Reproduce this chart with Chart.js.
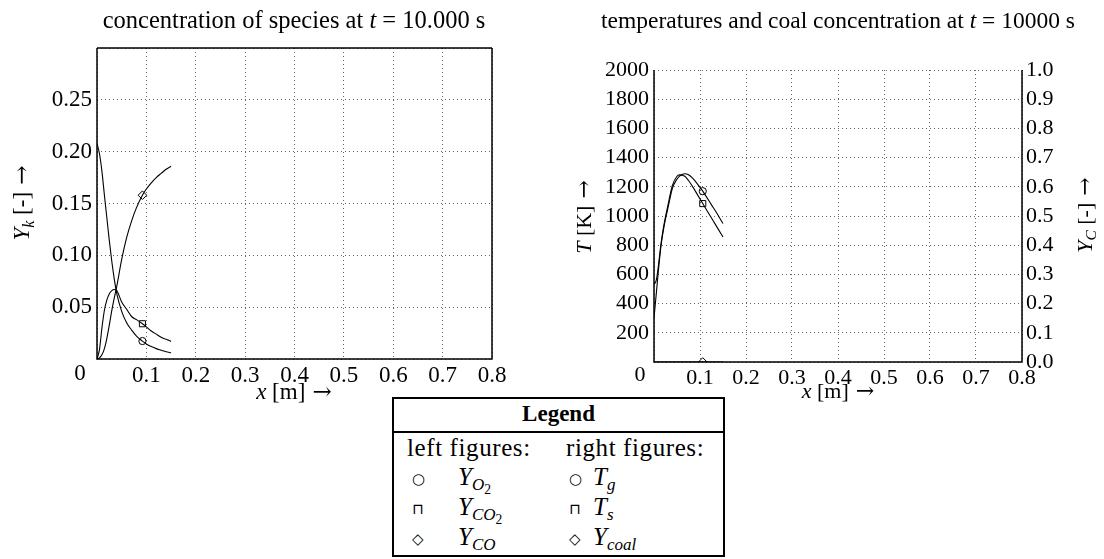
<!DOCTYPE html>
<html>
<head>
<meta charset="utf-8">
<script src="https://cdn.jsdelivr.net/npm/chart.js@4.4.0/dist/chart.umd.min.js"></script>
<style>
  body { margin: 0; background: #fff; width: 1104px; height: 559px; overflow: hidden; position: relative; font-family: "Liberation Serif", serif; color: #000; }
  #leftChart { position: absolute; left: 0; top: 0; }
  #rightChart { position: absolute; left: 540px; top: 0; }
  #legend { position: absolute; left: 392px; top: 397px; width: 333px; height: 160px; border: 2px solid #000; box-sizing: border-box; font-size: 25px; z-index: 2; background: #fff; }
  #legend .hd { position: absolute; left: 0; right: 0; top: 0; height: 32px; border-bottom: 2.5px solid #000; text-align: center; font-weight: bold; font-size: 23px; line-height: 30px; }
  #legend span { position: absolute; white-space: nowrap; line-height: 30px; }
  #legend .sym { font-family: "DejaVu Sans", sans-serif; font-size: 15px; }
  #legend sub { font-size: 0.68em; vertical-align: -0.3em; line-height: 0; }
  #legend sub sub { font-size: 0.8em; font-style: normal; }
</style>
</head>
<body>
<canvas id="leftChart" width="540" height="410"></canvas>
<canvas id="rightChart" width="564" height="410"></canvas>
<div id="legend">
  <div class="hd">Legend</div>
  <span style="left:13px;top:34px;letter-spacing:0.6px">left figures:</span>
  <span style="left:172px;top:34px;letter-spacing:0.6px">right figures:</span>
  <span class="sym" style="left:18px;top:65px">○</span>
  <span style="left:64px;top:63px"><i>Y</i><sub><i>O</i><sub>2</sub></sub></span>
  <span class="sym" style="left:175px;top:65px">○</span>
  <span style="left:199px;top:63px"><i>T</i><sub><i>g</i></sub></span>
  <span class="sym" style="left:18px;top:95px">⊓</span>
  <span style="left:64px;top:93px"><i>Y</i><sub><i>CO</i><sub>2</sub></sub></span>
  <span class="sym" style="left:175px;top:95px">⊓</span>
  <span style="left:199px;top:93px"><i>T</i><sub><i>s</i></sub></span>
  <span class="sym" style="left:18px;top:125px">◇</span>
  <span style="left:64px;top:123px"><i>Y</i><sub><i>CO</i></sub></span>
  <span class="sym" style="left:175px;top:125px">◇</span>
  <span style="left:199px;top:123px"><i>Y</i><sub><i>coal</i></sub></span>
</div>
<script>
// left figure: species along x [m]
const xLeft = [0, 0.005, 0.01, 0.015, 0.02, 0.025, 0.03, 0.035, 0.04, 0.05, 0.06, 0.07, 0.08, 0.092, 0.1, 0.11, 0.12, 0.13, 0.14, 0.15];
const yO2  = [0.208, 0.198, 0.181, 0.158, 0.136, 0.114, 0.094, 0.077, 0.063, 0.046, 0.035, 0.028, 0.022, 0.0173, 0.0145, 0.012, 0.010, 0.0085, 0.007, 0.006];
const yCO2 = [0, 0.009, 0.030, 0.047, 0.057, 0.063, 0.066, 0.067, 0.066, 0.055, 0.048, 0.041, 0.038, 0.034, 0.031, 0.027, 0.024, 0.021, 0.019, 0.017];
const yCO  = [0, 0.001, 0.004, 0.010, 0.020, 0.033, 0.047, 0.059, 0.070, 0.096, 0.117, 0.133, 0.146, 0.158, 0.164, 0.170, 0.175, 0.179, 0.183, 0.186];
const markLeft = 13;

// right figure: temperatures and coal
const xRight = [0, 0.005, 0.01, 0.015, 0.02, 0.025, 0.03, 0.04, 0.05, 0.055, 0.06, 0.067, 0.075, 0.085, 0.095, 0.106, 0.115, 0.125, 0.135, 0.15];
const tGas   = [300, 470, 640, 790, 895, 980, 1050, 1190, 1252, 1272, 1283, 1289, 1282, 1256, 1217, 1170, 1126, 1076, 1027, 948];
const tSolid = [530, 560, 670, 805, 910, 995, 1070, 1210, 1272, 1282, 1280, 1272, 1243, 1196, 1143, 1085, 1038, 986, 934, 856];
const yCoal  = [0, 0, 0, 0, 0, 0, 0, 0, 0, 0, 0, 0, 0, 0, 0, 0, 0, 0, 0, 0];
const markRight = 15;

const xTicks = [0, 0.1, 0.2, 0.3, 0.4, 0.5, 0.6, 0.7, 0.8];

function series(xs, ys, style, mark, r, axis) {
    return {
        data: xs.map((x, i) => ({ x: x, y: ys[i] })),
        showLine: true,
        borderColor: '#000',
        borderWidth: 1.1,
        cubicInterpolationMode: 'monotone',
        pointStyle: style,
        pointRadius: xs.map((x, i) => i === mark ? r : 0),
        pointBorderColor: '#000',
        pointBackgroundColor: 'rgba(255,255,255,0)',
        pointBorderWidth: 1,
        yAxisID: axis || 'y'
    };
}

// rich text (italic / subscript parts) drawn on the canvas
function richText(ctx, parts, x, y, size, rot) {
    ctx.save();
    ctx.translate(x, y);
    if (rot) ctx.rotate(-Math.PI / 2);
    const fontOf = p => (p.i ? 'italic ' : '') + (p.s ? size * 0.7 : size) + 'px ' + (p.f || '"Liberation Serif", "DejaVu Serif", serif');
    let w = 0;
    parts.forEach(p => { ctx.font = fontOf(p); p.w = ctx.measureText(p.t).width; w += p.w; });
    let cx = -w / 2;
    ctx.textBaseline = 'middle';
    ctx.fillStyle = '#000';
    parts.forEach(p => { ctx.font = fontOf(p); ctx.fillText(p.t, cx, p.s ? size * 0.28 : 0); cx += p.w; });
    ctx.restore();
}
const arrow = { t: ' →', f: '"DejaVu Serif", serif' };

const decor = {
    id: 'decor',
    afterDraw(chart, args, opts) {
        const ctx = chart.ctx, a = chart.chartArea;
        ctx.save();
        ctx.strokeStyle = '#000';
        ctx.lineWidth = 1.5;
        ctx.beginPath();
        if (opts.top) { ctx.moveTo(a.left, a.top); ctx.lineTo(a.right, a.top); }
        ctx.moveTo(a.left, a.top); ctx.lineTo(a.left, a.bottom); ctx.lineTo(a.right, a.bottom); ctx.lineTo(a.right, a.top);
        ctx.stroke();
        ctx.restore();
        (opts.texts || []).forEach(t => richText(ctx, t.parts, t.x, t.y, t.size, t.rot));
    }
};

const tickFont = size => ({ family: '"Liberation Serif", serif', size: size });
const grid = { color: '#666', lineWidth: 1, drawTicks: false };
const border = { display: false, dash: [1, 3] };

new Chart(document.getElementById('leftChart'), {
    type: 'scatter',
    data: { datasets: [
        series(xLeft, yO2, 'circle', markLeft, 3.6),
        series(xLeft, yCO2, 'rect', markLeft, 4.3),
        series(xLeft, yCO, 'rectRot', markLeft, 4.3)
    ] },
    options: {
        responsive: false, animation: false, events: [],
        layout: { padding: { top: 48, right: 48, left: 0, bottom: 0 } },
        plugins: {
            legend: { display: false }, tooltip: { enabled: false },
            decor: { top: true, texts: [
                { parts: [{ t: 'concentration of species at ' }, { t: 't', i: 1 }, { t: ' = 10.000 s' }], x: 294, y: 22, size: 24.5 },
                { parts: [{ t: 'Y', i: 1 }, { t: 'k', i: 1, s: 1 }, { t: ' [-]' }, arrow], x: 23, y: 203, size: 23, rot: true },
                { parts: [{ t: 'x', i: 1 }, { t: ' [m]' }, arrow], x: 294, y: 393, size: 23 },
                { parts: [{ t: '0' }], x: 80, y: 374, size: 23 }
            ] }
        },
        scales: {
            x: {
                type: 'linear', min: 0, max: 0.8,
                afterBuildTicks: s => { s.ticks = xTicks.map(v => ({ value: v })); },
                ticks: { callback: v => v === 0 ? '' : v.toFixed(1), font: tickFont(23), color: '#000', padding: 3, maxRotation: 0, autoSkip: false },
                grid: grid, border: border,
                afterFit: s => { s.height = 51; }
            },
            y: {
                min: 0, max: 0.3,
                ticks: { stepSize: 0.05, autoSkip: false, callback: v => (v < 0.01 || v > 0.29) ? '' : v.toFixed(2), font: tickFont(23), color: '#000', padding: 5 },
                grid: grid, border: border,
                afterFit: s => { s.width = 97; }
            }
        }
    },
    plugins: [decor]
});

new Chart(document.getElementById('rightChart'), {
    type: 'scatter',
    data: { datasets: [
        series(xRight, tGas, 'circle', markRight, 3.6),
        series(xRight, tSolid, 'rect', markRight, 4.3),
        series(xRight, yCoal, 'rectRot', markRight, 4.3, 'y1')
    ] },
    options: {
        responsive: false, animation: false, events: [],
        layout: { padding: { top: 70, right: 0, left: 0, bottom: 0 } },
        plugins: {
            legend: { display: false }, tooltip: { enabled: false },
            decor: { top: false, texts: [
                { parts: [{ t: 'temperatures and coal concentration at ' }, { t: 't', i: 1 }, { t: ' = 10000 s' }], x: 298, y: 22, size: 23.5 },
                { parts: [{ t: 'T', i: 1 }, { t: ' [K]' }, arrow], x: 45, y: 217, size: 22, rot: true },
                { parts: [{ t: 'Y', i: 1 }, { t: 'C', i: 1, s: 1 }, { t: ' [-]' }, arrow], x: 546, y: 215, size: 22, rot: true },
                { parts: [{ t: 'x', i: 1 }, { t: ' [m]' }, arrow], x: 298, y: 392, size: 22 },
                { parts: [{ t: '0' }], x: 100, y: 375, size: 22 }
            ] }
        },
        scales: {
            x: {
                type: 'linear', min: 0, max: 0.8,
                afterBuildTicks: s => { s.ticks = xTicks.map(v => ({ value: v })); },
                ticks: { callback: v => v === 0 ? '' : v.toFixed(1), font: tickFont(22), color: '#000', padding: 3, maxRotation: 0, autoSkip: false },
                grid: grid, border: border,
                afterFit: s => { s.height = 48; }
            },
            y: {
                min: 0, max: 2000,
                ticks: { stepSize: 200, autoSkip: false, callback: v => v === 0 ? '' : String(v), font: tickFont(22), color: '#000', padding: 5 },
                grid: grid, border: border,
                afterFit: s => { s.width = 114; }
            },
            y1: {
                position: 'right', min: 0, max: 1,
                ticks: { stepSize: 0.1, autoSkip: false, callback: v => v.toFixed(1), font: tickFont(22), color: '#000', padding: 4 },
                grid: { drawOnChartArea: false, drawTicks: false }, border: { display: false },
                afterFit: s => { s.width = 82; }
            }
        }
    },
    plugins: [decor]
});
</script>
</body>
</html>
